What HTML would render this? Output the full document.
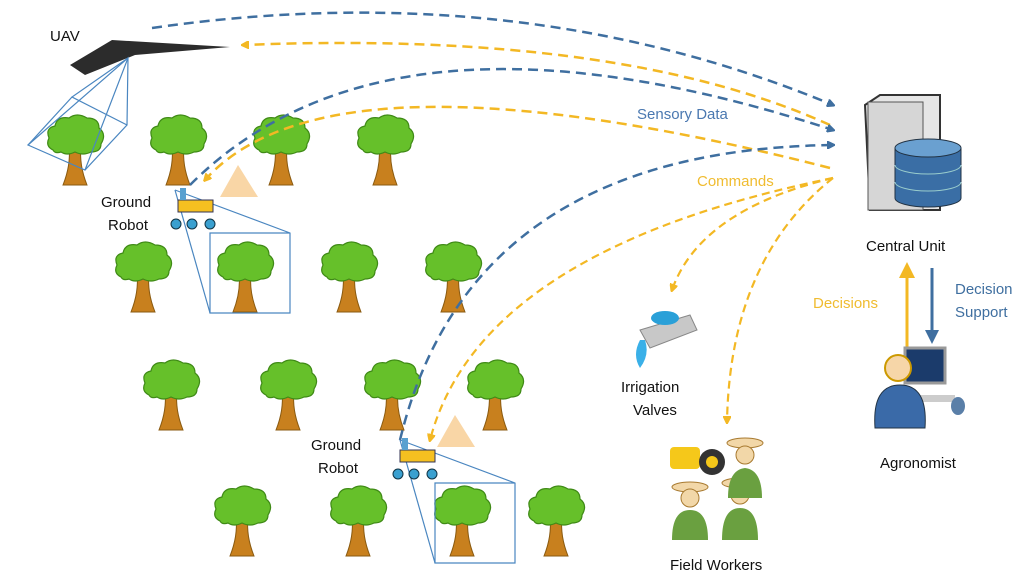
<!DOCTYPE html>
<html><head><meta charset="utf-8"><style>
html,body{margin:0;padding:0;background:#fff;}
svg{display:block;font-family:"Liberation Sans",sans-serif;}
</style></head><body>
<svg width="1024" height="579" viewBox="0 0 1024 579" xmlns="http://www.w3.org/2000/svg">
<defs>
<g id="tree">
<path d="M-6,12 Q-4,30 -12,50 L12,50 Q4,30 6,12 Z" fill="#c8801e" stroke="#8a5a10" stroke-width="1"/>
<path d="M-22,15 Q-30,11 -26,3 Q-30,-7 -20,-9 Q-18,-19 -6,-17 Q2,-23 12,-17 Q24,-17 24,-7 Q32,-1 26,9 Q26,17 16,17 Q8,21 0,17 Q-8,21 -14,17 Q-20,19 -22,15 Z" fill="#66c02a" stroke="#3f8a16" stroke-width="1.2"/>
</g>
<marker id="ab" markerWidth="8" markerHeight="8" refX="6" refY="4" orient="auto" markerUnits="userSpaceOnUse"><path d="M0,0 L8,4 L0,8 Z" fill="#3f6fa0" transform="scale(1.6) translate(-2,-1.5)"/></marker>
<marker id="ay" markerWidth="8" markerHeight="8" refX="6" refY="4" orient="auto" markerUnits="userSpaceOnUse"><path d="M0,0 L8,4 L0,8 Z" fill="#f3b824" transform="scale(1.6) translate(-2,-1.5)"/></marker>
</defs>

<use href="#tree" x="75" y="135"/><use href="#tree" x="178" y="135"/><use href="#tree" x="281" y="135"/><use href="#tree" x="385" y="135"/>
<use href="#tree" x="143" y="262"/><use href="#tree" x="245" y="262"/><use href="#tree" x="349" y="262"/><use href="#tree" x="453" y="262"/>
<use href="#tree" x="171" y="380"/><use href="#tree" x="288" y="380"/><use href="#tree" x="392" y="380"/><use href="#tree" x="495" y="380"/>
<use href="#tree" x="242" y="506"/><use href="#tree" x="358" y="506"/><use href="#tree" x="462" y="506"/><use href="#tree" x="556" y="506"/>

<path d="M70,65 L112,40 L230,47 L135,55 L85,75 Z" fill="#2c2c2c"/>
<g fill="none" stroke="#4a86c0" stroke-width="1.2">
<path d="M128,58 L28,145 L85,170 L127,125 Z"/><path d="M128,58 L72,97 L127,125"/><path d="M128,58 L85,170"/><path d="M72,97 L28,145"/>
<path d="M175,190 L290,233 L290,313 L210,313 L210,233 L290,233"/><path d="M175,190 L210,313"/>
<path d="M400,440 L515,483 L515,563 L435,563 L435,483 L515,483"/><path d="M400,440 L435,563"/>
</g>
<g>
<rect x="178" y="200" width="35" height="12" fill="#f5c020" stroke="#335" stroke-width="1"/>
<rect x="180" y="188" width="6" height="12" fill="#58a0d0"/>
<circle cx="176" cy="224" r="5" fill="#3aa0d0" stroke="#134" /><circle cx="192" cy="224" r="5" fill="#3aa0d0" stroke="#134"/><circle cx="210" cy="224" r="5" fill="#3aa0d0" stroke="#134"/>
<path d="M220,197 L238,165 L258,197 Z" fill="#f7cc90" opacity="0.8"/>
</g>
<g transform="translate(222,250)">
<rect x="178" y="200" width="35" height="12" fill="#f5c020" stroke="#335" stroke-width="1"/>
<rect x="180" y="188" width="6" height="12" fill="#58a0d0"/>
<circle cx="176" cy="224" r="5" fill="#3aa0d0" stroke="#134" /><circle cx="192" cy="224" r="5" fill="#3aa0d0" stroke="#134"/><circle cx="210" cy="224" r="5" fill="#3aa0d0" stroke="#134"/>
<path d="M215,197 L233,165 L253,197 Z" fill="#f7cc90" opacity="0.8"/>
</g>

<g fill="none" stroke-width="2.5" stroke-dasharray="10,6">
<path d="M152,28 Q520,-25 833,105" stroke="#3f6fa0" marker-end="url(#ab)"/>
<path d="M830,125 Q620,30 243,45" stroke="#f3b824" marker-end="url(#ay)"/>
<path d="M190,185 Q390,-15 833,130" stroke="#3f6fa0" marker-end="url(#ab)"/>
<path d="M830,168 Q330,40 205,180" stroke="#f3b824" marker-end="url(#ay)"/>
<path d="M400,440 Q470,150 833,145" stroke="#3f6fa0" marker-end="url(#ab)"/>
</g>
<g fill="none" stroke-width="2.2" stroke-dasharray="8,5" stroke="#f3b824">
<path d="M833,178 Q480,250 430,440" marker-end="url(#ay)"/>
<path d="M833,178 Q700,210 672,290" marker-end="url(#ay)"/>
<path d="M833,178 Q730,260 727,422" marker-end="url(#ay)"/>
</g>
<line x1="907" y1="377" x2="907" y2="275" stroke="#f3b824" stroke-width="3"/>
<path d="M899,278 L907,262 L915,278 Z" fill="#f3b824"/>
<line x1="932" y1="268" x2="932" y2="332" stroke="#3f6fa0" stroke-width="3"/>
<path d="M925,330 L932,344 L939,330 Z" fill="#3f6fa0"/>

<path d="M865,105 L880,95 L940,95 L940,210 L870,210 Z" fill="#e6e6e6" stroke="#333" stroke-width="2"/>
<rect x="868" y="102" width="55" height="108" fill="#d6d6d6" stroke="#555"/>
<path d="M895,148 L895,198 A33,9 0 0 0 961,198 L961,148" fill="#3a6ea5" stroke="#234"/>
<ellipse cx="928" cy="148" rx="33" ry="9" fill="#6aa0d0" stroke="#234"/>
<path d="M895,165 A33,9 0 0 0 961,165 M895,182 A33,9 0 0 0 961,182" fill="none" stroke="#9cc" stroke-width="1"/>

<rect x="905" y="348" width="40" height="35" fill="#1b3b6b" stroke="#999" stroke-width="3"/>
<rect x="915" y="395" width="40" height="7" fill="#ccc"/>
<ellipse cx="958" cy="406" rx="7" ry="9" fill="#5a7fa8"/>
<path d="M875,428 Q872,385 900,385 Q928,385 925,428 Z" fill="#3a6aa8" stroke="#234"/>
<circle cx="898" cy="368" r="13" fill="#f6d6a8" stroke="#c90" stroke-width="2"/>

<path d="M640,330 L690,315 L697,330 L650,348 Z" fill="#c8c8c8" stroke="#888"/>
<ellipse cx="665" cy="318" rx="14" ry="7" fill="#2aa0d8"/>
<path d="M640,340 Q632,355 640,368 Q650,355 645,340 Z" fill="#3ab0e8"/>

<rect x="670" y="447" width="30" height="22" rx="4" fill="#f5c81a"/>
<circle cx="712" cy="462" r="13" fill="#333"/><circle cx="712" cy="462" r="6" fill="#f5c81a"/>
<g fill="#f2d7a8" stroke="#a87a30">
<ellipse cx="745" cy="443" rx="18" ry="5"/><circle cx="745" cy="455" r="9"/>
<ellipse cx="690" cy="487" rx="18" ry="5"/><circle cx="690" cy="498" r="9"/>
<ellipse cx="740" cy="483" rx="18" ry="5"/><circle cx="740" cy="495" r="9"/>
</g>
<path d="M672,540 Q672,510 690,510 Q708,510 708,540 Z M722,540 Q722,508 740,508 Q758,508 758,540 Z M728,498 Q728,470 745,468 Q762,470 762,498 Z" fill="#6aa040"/>

<g font-size="15" fill="#111">
<text x="50" y="41">UAV</text>
<text x="101" y="207">Ground</text><text x="108" y="230">Robot</text>
<text x="311" y="450">Ground</text><text x="318" y="473">Robot</text>
<text x="866" y="251">Central Unit</text>
<text x="880" y="468">Agronomist</text>
<text x="621" y="392">Irrigation</text><text x="633" y="415">Valves</text>
<text x="670" y="570">Field Workers</text>
</g>
<g font-size="15">
<text x="637" y="119" fill="#4a78b0">Sensory Data</text>
<text x="697" y="186" fill="#f0bc30">Commands</text>
<text x="813" y="308" fill="#f0bc30">Decisions</text>
<text x="955" y="294" fill="#3f6fa0">Decision</text>
<text x="955" y="317" fill="#3f6fa0">Support</text>
</g>
</svg>
</body></html>
